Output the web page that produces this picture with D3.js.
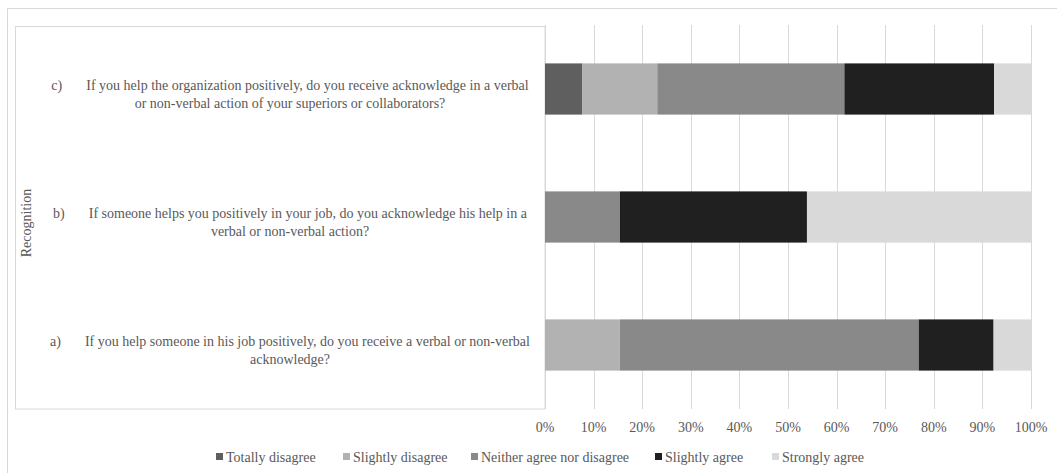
<!DOCTYPE html>
<html>
<head>
    <meta charset="UTF-8">
    <title>Recognition</title>
    <script src="https://d3js.org/d3.v7.min.js"></script>
    <style>
        body { margin: 0; background: #fff; }
        text { font-family: "Liberation Serif", "Times New Roman", serif; fill: #595959; }
    </style>
</head>
<body>
    <div id="chart"></div>

    <script type="text/javascript">

        // Questions, top to bottom, with their wrapped lines
        let items = ["c", "b", "a"];
        let prefixes = { c: "c)", b: "b)", a: "a)" };
        let questionLines = {
            c: ["If you help the organization positively, do you receive acknowledge in a verbal",
                "or non-verbal action of your superiors or collaborators?"],
            b: ["If someone helps you positively in your job, do you acknowledge his help in a",
                "verbal or non-verbal action?"],
            a: ["If you help someone in his job positively, do you receive a verbal or non-verbal",
                "acknowledge?"]
        };

        // Response shares per question (13 respondents)
        let keys = ["Totally disagree", "Slightly disagree", "Neither agree nor disagree", "Slightly agree", "Strongly agree"];
        let totallyDisagree = [0.077, 0, 0];
        let slightlyDisagree = [0.154, 0, 0.154];
        let neither = [0.385, 0.154, 0.615];
        let slightlyAgree = [0.308, 0.385, 0.154];
        let stronglyAgree = [0.077, 0.462, 0.077];
        let colors = ["#5f5f5f", "#b2b2b2", "#898989", "#202020", "#d9d9d9"];
        let ticks = [0, 0.1, 0.2, 0.3, 0.4, 0.5, 0.6, 0.7, 0.8, 0.9, 1];

        let rows = items.map(function (k, i) {
            return {
                item: k,
                "Totally disagree": totallyDisagree[i],
                "Slightly disagree": slightlyDisagree[i],
                "Neither agree nor disagree": neither[i],
                "Slightly agree": slightlyAgree[i],
                "Strongly agree": stronglyAgree[i]
            };
        });

        let W = 1057, H = 473;
        let svg = d3.select("#chart").append("svg")
            .attr("width", W)
            .attr("height", H);

        // outer frame (cut at right and bottom)
        svg.append("path")
            .attr("d", "M7.5," + H + "V8.5H" + W)
            .attr("fill", "none")
            .attr("stroke", "#d9d9d9");

        let x = d3.scaleLinear().domain([0, 1]).range([545, 1031]);
        let y = d3.scaleBand().domain(items).range([25, 409]).paddingInner(0.6).paddingOuter(0.3);
        let color = d3.scaleOrdinal().domain(keys).range(colors);

        // label box
        svg.append("rect")
            .attr("x", 15.5).attr("y", 26.5)
            .attr("width", 545 - 15.5).attr("height", 409 - 26.5)
            .attr("fill", "none")
            .attr("stroke", "#d9d9d9");

        // gridlines
        svg.append("g")
            .selectAll("line")
            .data(ticks)
            .join("line")
            .attr("x1", d => Math.round(x(d)) + 0.5)
            .attr("x2", d => Math.round(x(d)) + 0.5)
            .attr("y1", 25)
            .attr("y2", 409)
            .attr("stroke", "#d9d9d9");

        // tick labels
        svg.append("g")
            .selectAll("text")
            .data(ticks)
            .join("text")
            .attr("x", d => x(d))
            .attr("y", 432)
            .attr("text-anchor", "middle")
            .style("font-size", "14px")
            .text(d3.format(".0%"));

        // bars
        let stacked = d3.stack().keys(keys)(rows);
        svg.append("g")
            .selectAll("g")
            .data(stacked)
            .join("g")
            .attr("fill", d => color(d.key))
            .selectAll("rect")
            .data(d => d)
            .join("rect")
            .attr("x", d => x(d[0]))
            .attr("y", d => y(d.data.item))
            .attr("width", d => x(d[1]) - x(d[0]))
            .attr("height", y.bandwidth());

        // question labels, centred in the label box
        let labelCenter = 290;
        items.forEach(function (k) {
            let cy = y(k) + y.bandwidth() / 2;
            let lines = questionLines[k];
            let g = svg.append("g").style("font-size", "14px");
            let t1 = g.append("text").attr("y", cy + 1);
            t1.append("tspan").text(prefixes[k]);
            t1.append("tspan").attr("dx", 24).text(lines[0]);
            let w1 = t1.node().getComputedTextLength() + 24;
            t1.attr("x", labelCenter - w1 / 2);
            t1.select("tspan").attr("x", labelCenter - w1 / 2);
            g.append("text")
                .attr("x", labelCenter)
                .attr("y", cy + 18.5)
                .attr("text-anchor", "middle")
                .text(lines[1]);
        });

        // axis title
        svg.append("text")
            .attr("transform", "translate(31,223) rotate(-90)")
            .attr("text-anchor", "middle")
            .style("font-size", "14px")
            .text("Recognition");

        // legend
        let legendX = [216, 343, 471, 655, 772];
        let legend = svg.append("g")
            .selectAll("g")
            .data(keys)
            .join("g")
            .attr("transform", (d, i) => "translate(" + legendX[i] + ",457)");
        legend.append("rect")
            .attr("x", 0).attr("y", -4)
            .attr("width", 7).attr("height", 7)
            .attr("fill", d => color(d));
        legend.append("text")
            .attr("x", 10)
            .attr("y", 4.5)
            .style("font-size", "14px")
            .text(d => d);

    </script>
</body>
</html>
